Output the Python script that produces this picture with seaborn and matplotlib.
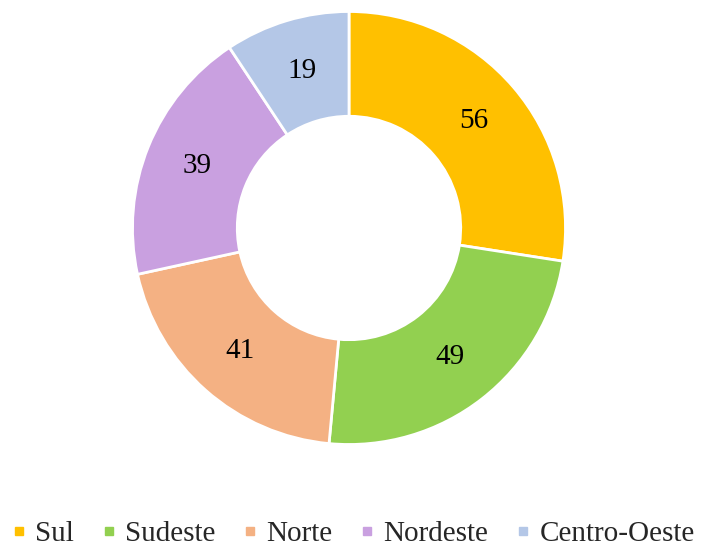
import matplotlib
matplotlib.use("Agg")
import matplotlib.pyplot as plt
from matplotlib.lines import Line2D
import numpy as np
import seaborn as sns

# data
regions = ["Sul", "Sudeste", "Norte", "Nordeste", "Centro-Oeste"]
counts = [56, 49, 41, 39, 19]
colors = ["#FFC000", "#92D050", "#F4B183", "#C9A0E0", "#B4C7E7"]

sns.set_theme(style="white")
plt.rcParams['font.family'] = ['Liberation Serif', 'DejaVu Serif']

fig = plt.figure(figsize=(7.02, 5.48), dpi=100)
# axes placed so the ring sits where it does in the reference
ax = fig.add_axes([132.5 / 702, (548 - 444.5) / 548, 433 / 702, 433 / 548])

ring = 0.484
wedges, _ = ax.pie(counts, colors=colors, startangle=90, counterclock=False,
                   radius=1.0,
                   wedgeprops=dict(width=ring, edgecolor="white", linewidth=2))

ax.set_xlim(-1, 1)
ax.set_ylim(-1, 1)
ax.set_aspect("equal")

# value labels in the middle of the ring
total = sum(counts)
start = 90.0
for v in counts:
    ang = start - 360.0 * v / total / 2
    start -= 360.0 * v / total
    r = 1 - ring / 2
    ax.text(r * np.cos(np.radians(ang)), r * np.sin(np.radians(ang)), str(v),
            ha="center", va="center", fontsize=21, color="black")

handles = [Line2D([0], [0], marker="s", linestyle="", markersize=5.5,
                  markerfacecolor=c, markeredgecolor=c) for c in colors]
fig.legend(handles, regions, loc="lower center", ncol=5, frameon=False,
           fontsize=21, handlelength=0.5, handletextpad=0.3,
           columnspacing=0.95, bbox_to_anchor=(0.503, -0.046))

fig.savefig("out.png", dpi=100)
